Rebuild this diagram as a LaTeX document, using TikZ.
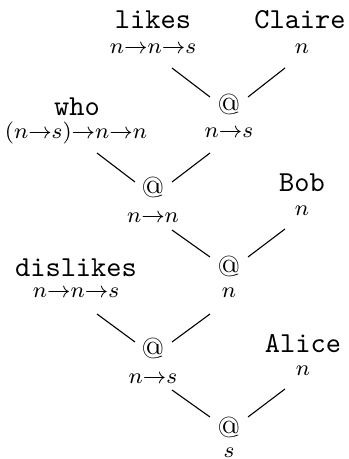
\documentclass[tikz,border=0pt]{standalone}
\usetikzlibrary{calc}
\newcommand{\ar}{\mathord{\rightarrow}}
\begin{document}
\begin{tikzpicture}[x=0.3623pt,y=-0.3623pt,
  lbl/.style={anchor=base,inner sep=0pt,font=\fontsize{10.5pt}{12pt}\selectfont\ttfamily},
  app/.style={anchor=base,inner sep=0pt,font=\fontsize{10.5pt}{12pt}\selectfont},
  typ/.style={anchor=base,inner sep=0pt,font=\footnotesize},
  edge/.style={draw=black,line width=0.4pt}]
\useasboundingbox (0,0) rectangle (349,459);
% labels
\node[lbl] (likes) at (153,28) {likes};
\node[typ] (likesT) at (153,53) {$n\ar n\ar s$};
\node[lbl] (claire) at (300,28) {Claire};
\node[typ] (claireT) at (302,53) {$n$};
\node[app] (at1) at (229,114) {@};
\node[typ] (at1T) at (229,137) {$n\ar s$};
\node[lbl] (who) at (77,115) {who};
\node[typ] (whoT) at (76,138) {$(n\ar s)\ar n\ar n$};
\node[app] (at2) at (153,197) {@};
\node[typ] (at2T) at (153,222) {$n\ar n$};
\node[lbl] (bob) at (302,191) {Bob};
\node[typ] (bobT) at (302,215) {$n$};
\node[lbl] (dislikes) at (76,276) {dislikes};
\node[typ] (dislikesT) at (76,297) {$n\ar n\ar s$};
\node[app] (at3) at (229,276) {@};
\node[typ] (at3T) at (229,297) {$n$};
\node[app] (at4) at (153,358) {@};
\node[typ] (at4T) at (153,383) {$n\ar s$};
\node[lbl] (alice) at (303,352) {Alice};
\node[typ] (aliceT) at (303,375) {$n$};
\node[app] (at5) at (229,437) {@};
\node[typ] (at5T) at (229,457) {$s$};
% connectors
\draw[edge] ($(likesT.base)+(19,15)$) -- ($(at1.base)+(-19,-17)$);
\draw[edge] ($(claireT.base)+(-17,15)$) -- ($(at1.base)+(19,-17)$);
\draw[edge] ($(whoT.base)+(21,15)$) -- ($(at2.base)+(-18,-15)$);
\draw[edge] ($(at1T.base)+(-19,16)$) -- ($(at2.base)+(19,-15)$);
\draw[edge] ($(at2T.base)+(19,8)$) -- ($(at3.base)+(-19,-19)$);
\draw[edge] ($(bobT.base)+(-17,14)$) -- ($(at3.base)+(19,-19)$);
\draw[edge] ($(dislikesT.base)+(21,17)$) -- ($(at4.base)+(-18,-16)$);
\draw[edge] ($(at3T.base)+(-19,17)$) -- ($(at4.base)+(19,-16)$);
\draw[edge] ($(at4T.base)+(19,7)$) -- ($(at5.base)+(-19,-20)$);
\draw[edge] ($(aliceT.base)+(-18,14)$) -- ($(at5.base)+(19,-20)$);
\end{tikzpicture}
\end{document}
